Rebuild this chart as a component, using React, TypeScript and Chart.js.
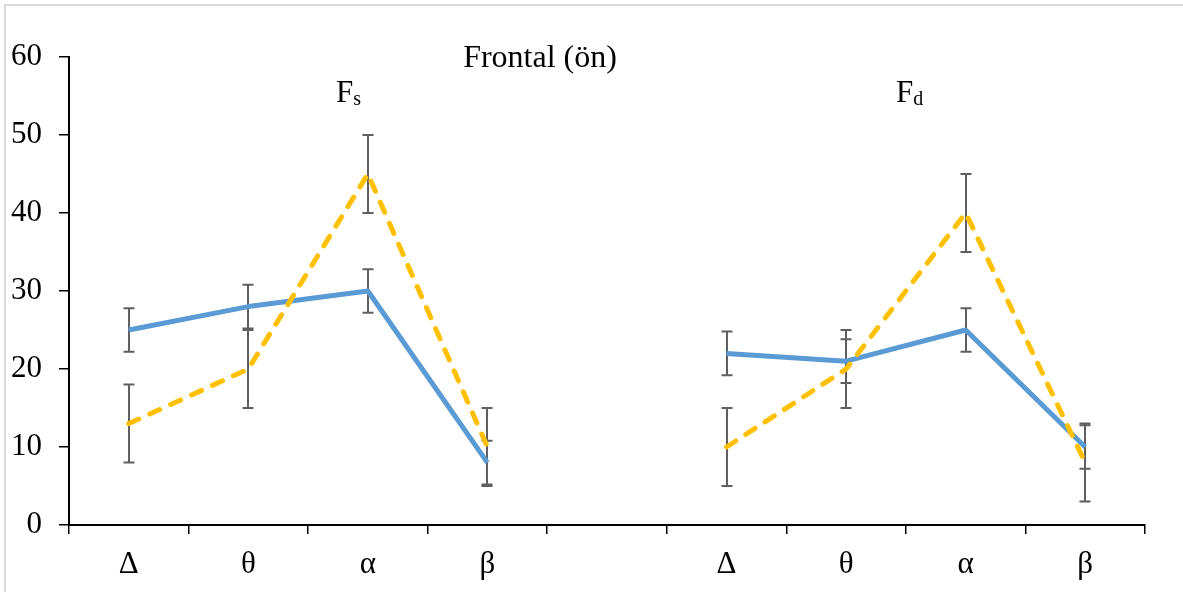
import React, { useEffect, useRef } from "react";
import { Chart, registerables } from "chart.js";

Chart.register(...registerables);

const categories = ["Δ", "θ", "α", "β", "", "Δ", "θ", "α", "β"];
const blueValues = [25, 28, 30, 8, null, 22, 21, 25, 10];
const orangeValues = [13, 20, 45, 10, null, 10, 20, 40, 8];
const blueErrors = [2.8, 2.8, 2.8, 2.8, null, 2.8, 2.8, 2.8, 2.8];
const orangeErrors = [5, 5, 5, 5, null, 5, 5, 5, 5];
const yTickValues = [0, 10, 20, 30, 40, 50, 60];
const titleText = "Frontal (ön)";
const groupLabels = [
  { main: "F", sub: "s" },
  { main: "F", sub: "d" },
];

const FONT = '"Liberation Serif", "Times New Roman", serif';

export default function App() {
  const ref = useRef<HTMLCanvasElement | null>(null);

  useEffect(() => {
    document.body.style.margin = "0";
    const canvas = ref.current;
    if (!canvas) return;

    const errorBars = {
      id: "errorBars",
      beforeDatasetsDraw(chart: any) {
        const { ctx } = chart;
        const xs = chart.scales.x;
        const ys = chart.scales.y;
        const sets = [
          { vals: orangeValues, errs: orangeErrors },
          { vals: blueValues, errs: blueErrors },
        ];
        ctx.save();
        ctx.strokeStyle = "#5f5f5f";
        ctx.lineWidth = 2;
        sets.forEach((s) => {
          s.vals.forEach((v, i) => {
            const e = s.errs[i];
            if (v == null || e == null) return;
            const x = Math.round(xs.getPixelForValue(i));
            const yt = ys.getPixelForValue(v + e);
            const yb = ys.getPixelForValue(v - e);
            ctx.beginPath();
            ctx.moveTo(x, yt);
            ctx.lineTo(x, yb);
            ctx.moveTo(x - 5.5, yt);
            ctx.lineTo(x + 5.5, yt);
            ctx.moveTo(x - 5.5, yb);
            ctx.lineTo(x + 5.5, yb);
            ctx.stroke();
          });
        });
        ctx.restore();
      },
    };

    const decor = {
      id: "decor",
      afterDraw(chart: any) {
        const { ctx } = chart;
        ctx.save();
        ctx.strokeStyle = "#d9d9d9";
        ctx.lineWidth = 2;
        ctx.beginPath();
        ctx.moveTo(5, 592);
        ctx.lineTo(5, 5);
        ctx.lineTo(1183, 5);
        ctx.stroke();
        ctx.fillStyle = "#000";
        ctx.textBaseline = "alphabetic";
        ctx.textAlign = "center";
        ctx.font = `32px ${FONT}`;
        ctx.fillText(titleText, 540, 67);
        const pos = [
          { x: 336, y: 102 },
          { x: 896, y: 102 },
        ];
        groupLabels.forEach((g, i) => {
          ctx.textAlign = "left";
          ctx.font = `31px ${FONT}`;
          ctx.fillText(g.main, pos[i].x, pos[i].y);
          const w = ctx.measureText(g.main).width;
          ctx.font = `20px ${FONT}`;
          ctx.fillText(g.sub, pos[i].x + w, pos[i].y + 3);
        });
        ctx.restore();
      },
    };

    const chart = new Chart(canvas, {
      type: "line",
      data: {
        labels: categories,
        datasets: [
          {
            label: "orange",
            data: orangeValues,
            borderColor: "#FFC000",
            backgroundColor: "#FFC000",
            borderWidth: 5,
            borderDash: [11, 12],
            borderCapStyle: "round",
            borderJoinStyle: "round",
            pointRadius: 0,
            tension: 0,
            spanGaps: false,
          },
          {
            label: "blue",
            data: blueValues,
            borderColor: "#5B9BD5",
            backgroundColor: "#5B9BD5",
            borderWidth: 5,
            borderJoinStyle: "round",
            pointRadius: 0,
            tension: 0,
            spanGaps: false,
          },
        ],
      },
      options: {
        responsive: false,
        animation: false,
        events: [],
        layout: { padding: { top: 57, right: 38, left: 0, bottom: 0 } },
        plugins: {
          legend: { display: false },
          tooltip: { enabled: false },
          title: { display: false },
        },
        scales: {
          x: {
            type: "category",
            offset: true,
            grid: {
              display: true,
              offset: true,
              drawOnChartArea: false,
              drawTicks: true,
              tickLength: 9,
              color: "#000",
              lineWidth: 1.5,
            },
            border: { display: true, color: "#000", width: 2 },
            ticks: {
              color: "#000",
              font: { family: FONT, size: 31 },
              padding: 12,
              maxRotation: 0,
              autoSkip: false,
            },
            afterFit(scale: any) {
              scale.height = 67;
            },
          },
          y: {
            type: "linear",
            min: 0,
            max: 60,
            afterBuildTicks(scale: any) {
              scale.ticks = yTickValues.map((v) => ({ value: v }));
            },
            grid: {
              display: true,
              drawOnChartArea: false,
              drawTicks: true,
              tickLength: 10,
              color: "#000",
              lineWidth: 1.5,
            },
            border: { display: true, color: "#000", width: 2 },
            ticks: {
              color: "#000",
              font: { family: FONT, size: 31 },
              padding: 17,
            },
            afterFit(scale: any) {
              scale.width = 69;
            },
          },
        },
      },
      plugins: [errorBars, decor],
    });

    return () => chart.destroy();
  }, []);

  return (
    <canvas
      ref={ref}
      width={1183}
      height={592}
      style={{ display: "block", width: 1183, height: 592 }}
    />
  );
}
